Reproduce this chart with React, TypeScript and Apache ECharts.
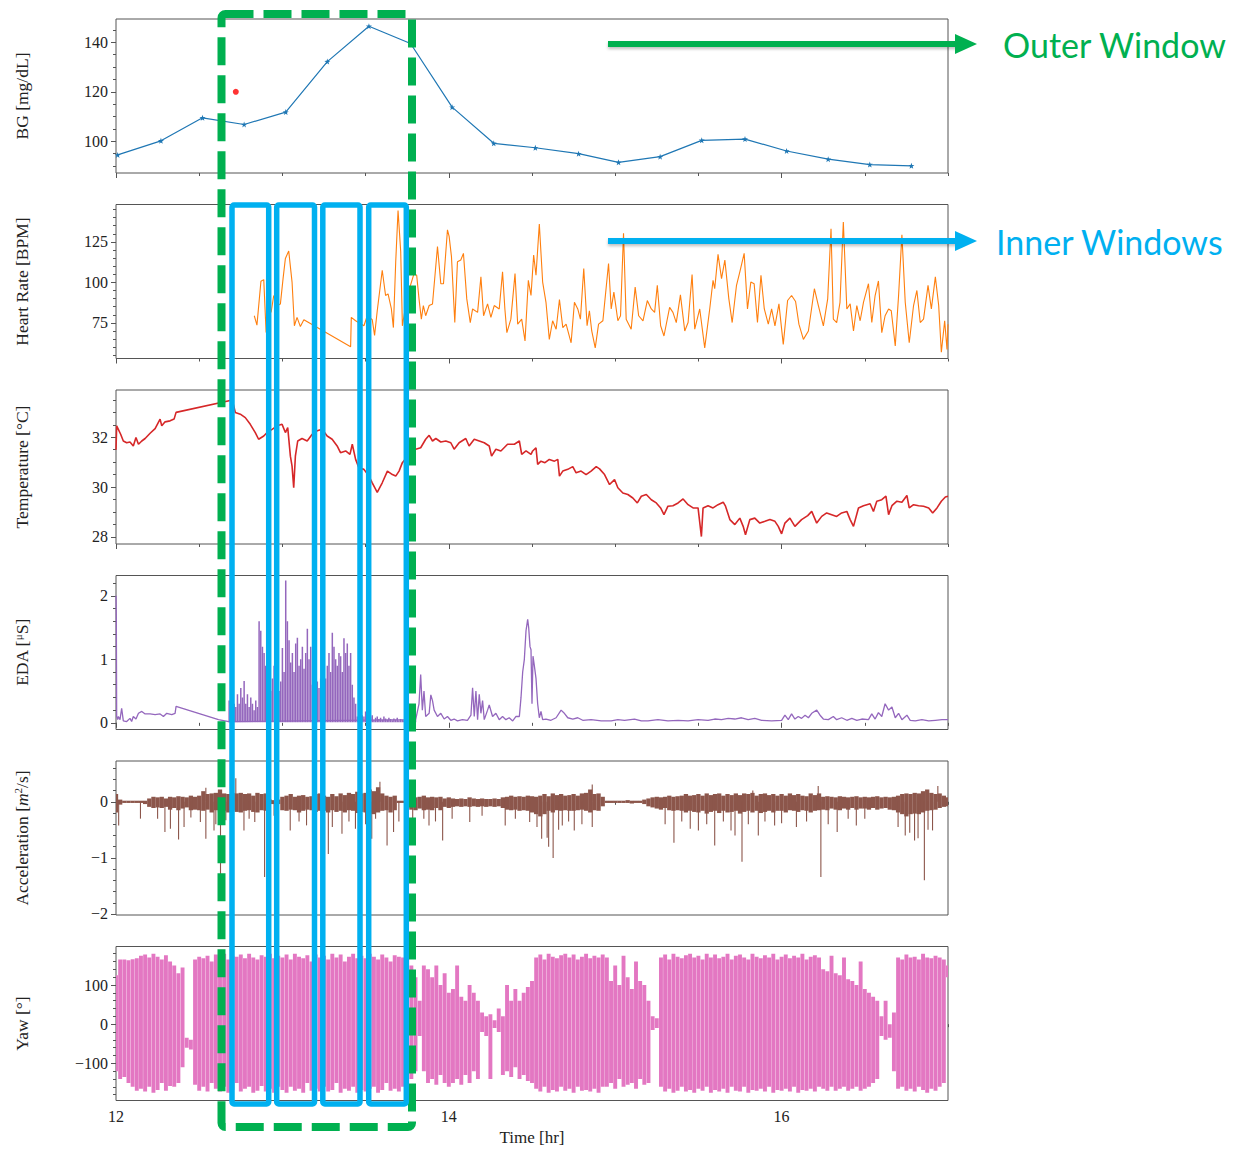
import React, { useEffect, useRef } from 'react';
import * as echarts from 'echarts';

// ---------------- DATA ----------------
const X_MIN = 12;
const X_MAX = 17;
const X_MAJOR = [12, 14, 16];

const BG_T = [12.01, 12.27, 12.52, 12.77, 13.02, 13.27, 13.52, 13.77, 14.02, 14.27, 14.52, 14.78, 15.02, 15.27, 15.52, 15.78, 16.03, 16.28, 16.53, 16.78];
const BG_V = [94.5, 100.2, 109.5, 106.8, 111.8, 132.2, 146.5, 139.5, 113.8, 99.2, 97.4, 95.0, 91.5, 93.8, 100.4, 100.9, 96.1, 92.8, 90.6, 90.1];
const BG_RED = [[12.72, 120.0]];

const HR_PTS = [
  [12.831, 79.4], [12.847, 73.6], [12.871, 100.7], [12.888, 101.7], [12.902, 69.0], [12.918, 85.7], [12.932, 81.5], [12.948, 91.9],
  [12.968, 85.7], [12.988, 86.7], [13.004, 102.3], [13.018, 114.8], [13.038, 119.4], [13.058, 100.2], [13.072, 73.2], [13.088, 78.4],
  [13.108, 72.7], [13.129, 76.9], [13.41, 60.2], [13.414, 78.4], [13.44, 76.3], [13.49, 73.2], [13.51, 79.4], [13.54, 76.9],
  [13.554, 67.3], [13.57, 82.5], [13.6, 107.5], [13.62, 91.9], [13.635, 92.9], [13.655, 83.6], [13.667, 72.1], [13.681, 112.7],
  [13.695, 144.4], [13.711, 119.0], [13.721, 73.2], [13.751, 91.9], [13.791, 105.4], [13.807, 104.4], [13.821, 89.8], [13.835, 77.3],
  [13.847, 85.7], [13.861, 79.4], [13.882, 85.7], [13.902, 86.7], [13.932, 122.1], [13.952, 99.2], [13.968, 99.2], [13.992, 132.5],
  [14.002, 128.4], [14.016, 115.9], [14.036, 75.2], [14.052, 112.7], [14.072, 113.8], [14.088, 117.9], [14.108, 89.8], [14.129, 75.2],
  [14.143, 83.6], [14.173, 81.5], [14.193, 103.4], [14.209, 79.4], [14.233, 86.7], [14.253, 78.4], [14.273, 85.7], [14.303, 83.6],
  [14.323, 106.5], [14.337, 83.6], [14.349, 69.0], [14.373, 77.3], [14.398, 105.4], [14.414, 74.2], [14.438, 77.3], [14.458, 63.8],
  [14.478, 101.3], [14.494, 91.9], [14.51, 116.9], [14.524, 104.4], [14.544, 136.1], [14.564, 100.2], [14.584, 87.7], [14.604, 64.8],
  [14.624, 76.3], [14.645, 71.1], [14.665, 89.4], [14.685, 72.1], [14.705, 74.2], [14.735, 62.7], [14.755, 87.7], [14.775, 83.6],
  [14.791, 77.3], [14.811, 108.6], [14.831, 73.2], [14.845, 82.5], [14.859, 70.0], [14.88, 59.6], [14.9, 74.2], [14.926, 76.3],
  [14.96, 111.7], [14.976, 83.6], [14.992, 94.0], [15.016, 76.3], [15.032, 79.4], [15.05, 130.4], [15.066, 77.3], [15.096, 71.1],
  [15.12, 97.1], [15.141, 79.4], [15.167, 76.3], [15.193, 88.8], [15.217, 83.6], [15.237, 81.5], [15.253, 98.2], [15.273, 73.2],
  [15.293, 66.9], [15.327, 84.6], [15.347, 81.5], [15.367, 75.2], [15.392, 92.3], [15.418, 70.0], [15.438, 75.2], [15.462, 104.8],
  [15.478, 71.1], [15.508, 83.6], [15.538, 59.6], [15.568, 83.6], [15.588, 101.3], [15.598, 96.1], [15.618, 117.3], [15.639, 102.3],
  [15.659, 113.8], [15.683, 89.8], [15.703, 75.2], [15.729, 98.2], [15.749, 106.5], [15.775, 117.9], [15.795, 83.6], [15.815, 100.2],
  [15.835, 99.2], [15.855, 75.2], [15.876, 104.4], [15.896, 83.6], [15.92, 74.2], [15.94, 83.6], [15.96, 73.2], [15.984, 86.7],
  [16.01, 61.7], [16.036, 88.8], [16.06, 91.9], [16.084, 88.2], [16.104, 74.2], [16.131, 64.8], [16.161, 70.0], [16.197, 96.1],
  [16.221, 85.7], [16.251, 73.2], [16.277, 89.8], [16.297, 133.1], [16.311, 77.3], [16.331, 75.2], [16.351, 87.7], [16.371, 137.3],
  [16.392, 83.6], [16.412, 86.7], [16.432, 70.0], [16.452, 85.7], [16.472, 76.3], [16.492, 87.7], [16.522, 99.2], [16.542, 75.2],
  [16.562, 91.9], [16.582, 100.9], [16.602, 69.0], [16.622, 79.4], [16.643, 83.6], [16.659, 82.5], [16.683, 60.7], [16.703, 91.9],
  [16.723, 129.4], [16.743, 87.7], [16.767, 62.7], [16.793, 85.7], [16.813, 95.0], [16.833, 75.2], [16.853, 77.3], [16.88, 98.2],
  [16.9, 83.6], [16.924, 103.4], [16.944, 85.7], [16.96, 56.9], [16.98, 76.3], [16.994, 58.6], [17.0, 74.2],
];

const TEMP_PTS = [
  [12.0, 31.5], [12.004, 32.46], [12.014, 32.32], [12.028, 32.12], [12.044, 31.85], [12.064, 31.78], [12.084, 31.81], [12.104, 31.65],
  [12.12, 31.99], [12.135, 31.72], [12.155, 31.85], [12.175, 31.95], [12.205, 32.16], [12.235, 32.35], [12.265, 32.73], [12.275, 32.46],
  [12.295, 32.62], [12.325, 32.66], [12.349, 32.73], [12.361, 33.0], [12.7, 33.5], [12.705, 33.33], [12.717, 33.0], [12.747, 32.93],
  [12.777, 32.79], [12.807, 32.52], [12.837, 32.19], [12.857, 31.92], [12.888, 32.05], [12.908, 32.19], [12.938, 32.32], [12.968, 32.46],
  [12.998, 32.52], [13.018, 32.19], [13.032, 32.39], [13.048, 31.24], [13.058, 30.84], [13.068, 29.97], [13.078, 31.24], [13.092, 31.85],
  [13.118, 31.95], [13.149, 31.85], [13.179, 32.12], [13.209, 32.26], [13.239, 32.32], [13.269, 32.05], [13.299, 31.92], [13.329, 31.65],
  [13.349, 31.38], [13.38, 31.45], [13.406, 31.31], [13.42, 31.72], [13.44, 31.11], [13.46, 30.77], [13.49, 30.71], [13.52, 30.44],
  [13.54, 30.17], [13.57, 29.79], [13.6, 30.17], [13.631, 30.64], [13.661, 30.5], [13.681, 30.44], [13.701, 30.64], [13.721, 30.98],
  [13.761, 31.31], [13.801, 31.52], [13.831, 31.58], [13.861, 31.92], [13.882, 32.08], [13.902, 31.85], [13.922, 31.95], [13.952, 31.81],
  [13.982, 31.85], [14.012, 31.78], [14.032, 31.52], [14.062, 31.78], [14.102, 31.95], [14.122, 31.65], [14.153, 31.92], [14.183, 31.85],
  [14.213, 31.78], [14.243, 31.65], [14.257, 31.24], [14.283, 31.52], [14.313, 31.45], [14.353, 31.72], [14.394, 31.72], [14.424, 31.85],
  [14.438, 31.31], [14.464, 31.45], [14.494, 31.31], [14.504, 31.45], [14.524, 31.58], [14.534, 30.91], [14.554, 31.04], [14.578, 30.98],
  [14.604, 31.11], [14.635, 31.04], [14.655, 31.11], [14.665, 30.44], [14.685, 30.64], [14.715, 30.71], [14.745, 30.82], [14.765, 30.57],
  [14.795, 30.64], [14.825, 30.5], [14.855, 30.64], [14.886, 30.82], [14.906, 30.73], [14.936, 30.5], [14.966, 30.1], [14.996, 30.3],
  [15.016, 29.97], [15.046, 29.76], [15.076, 29.7], [15.106, 29.56], [15.133, 29.36], [15.157, 29.63], [15.187, 29.7], [15.217, 29.49],
  [15.247, 29.36], [15.273, 29.16], [15.293, 28.89], [15.317, 29.23], [15.347, 29.25], [15.378, 29.36], [15.408, 29.52], [15.438, 29.29],
  [15.468, 29.16], [15.498, 29.16], [15.518, 28.01], [15.528, 29.16], [15.558, 29.25], [15.588, 29.16], [15.618, 29.29], [15.649, 29.39],
  [15.663, 29.23], [15.689, 28.69], [15.719, 28.49], [15.749, 28.75], [15.769, 28.42], [15.783, 28.08], [15.809, 28.69], [15.839, 28.75],
  [15.869, 28.55], [15.9, 28.62], [15.93, 28.69], [15.96, 28.62], [15.98, 28.42], [16.0, 28.12], [16.02, 28.55], [16.05, 28.75],
  [16.08, 28.42], [16.12, 28.69], [16.157, 28.85], [16.181, 29.02], [16.211, 28.55], [16.241, 28.82], [16.271, 28.96], [16.301, 28.89],
  [16.331, 28.82], [16.361, 28.96], [16.392, 29.02], [16.412, 28.69], [16.432, 28.42], [16.462, 29.16], [16.492, 29.25], [16.532, 29.33],
  [16.552, 29.02], [16.572, 29.43], [16.602, 29.49], [16.627, 29.63], [16.643, 28.89], [16.663, 29.25], [16.693, 29.43], [16.723, 29.39],
  [16.753, 29.66], [16.767, 29.16], [16.793, 29.29], [16.823, 29.25], [16.853, 29.23], [16.884, 29.16], [16.908, 28.96], [16.934, 29.16],
  [16.96, 29.43], [16.984, 29.6], [17.0, 29.63],
];

const EDA_PTS = [
  [12.0, 2.0], [12.002, 1.65], [12.004, 0.1], [12.01, 0.05], [12.014, 0.1], [12.024, 0.05], [12.034, 0.23], [12.044, 0.03],
  [12.064, 0.02], [12.084, 0.07], [12.094, 0.02], [12.104, 0.1], [12.12, 0.06], [12.135, 0.15], [12.155, 0.18], [12.175, 0.14],
  [12.205, 0.14], [12.235, 0.13], [12.265, 0.14], [12.285, 0.1], [12.305, 0.15], [12.335, 0.13], [12.355, 0.15], [12.361, 0.26],
  [12.616, 0.05], [12.677, 0.02], [13.801, 0.05], [13.821, 0.3], [13.831, 0.76], [13.841, 0.2], [13.851, 0.5], [13.861, 0.1],
  [13.882, 0.15], [13.892, 0.44], [13.902, 0.35], [13.912, 0.2], [13.932, 0.1], [13.952, 0.15], [13.972, 0.06], [13.992, 0.1],
  [14.012, 0.04], [14.032, 0.06], [14.052, 0.03], [14.082, 0.05], [14.112, 0.04], [14.133, 0.12], [14.143, 0.55], [14.153, 0.1],
  [14.163, 0.5], [14.173, 0.05], [14.183, 0.45], [14.193, 0.15], [14.203, 0.35], [14.213, 0.05], [14.233, 0.2], [14.243, 0.28],
  [14.263, 0.1], [14.283, 0.15], [14.303, 0.05], [14.323, 0.1], [14.343, 0.05], [14.363, 0.08], [14.384, 0.03], [14.404, 0.1],
  [14.424, 0.1], [14.434, 0.4], [14.444, 0.8], [14.454, 1.0], [14.464, 1.45], [14.474, 1.63], [14.48, 1.5], [14.488, 1.2],
  [14.494, 1.15], [14.5, 0.3], [14.506, 1.05], [14.514, 0.9], [14.524, 0.7], [14.534, 0.3], [14.544, 0.08], [14.554, 0.18],
  [14.564, 0.05], [14.584, 0.06], [14.614, 0.04], [14.645, 0.08], [14.675, 0.2], [14.691, 0.16], [14.715, 0.08], [14.745, 0.06],
  [14.775, 0.08], [14.805, 0.04], [14.855, 0.05], [14.916, 0.03], [14.976, 0.03], [15.016, 0.05], [15.056, 0.04], [15.116, 0.06],
  [15.157, 0.03], [15.197, 0.03], [15.257, 0.05], [15.317, 0.03], [15.378, 0.04], [15.438, 0.03], [15.498, 0.05], [15.558, 0.04],
  [15.598, 0.06], [15.639, 0.05], [15.679, 0.07], [15.719, 0.06], [15.759, 0.08], [15.799, 0.05], [15.839, 0.07], [15.88, 0.04],
  [15.94, 0.03], [16.0, 0.04], [16.02, 0.12], [16.04, 0.05], [16.06, 0.14], [16.08, 0.06], [16.1, 0.1], [16.12, 0.07],
  [16.141, 0.12], [16.161, 0.08], [16.181, 0.15], [16.211, 0.2], [16.231, 0.12], [16.251, 0.06], [16.281, 0.05], [16.311, 0.1],
  [16.331, 0.05], [16.361, 0.08], [16.392, 0.04], [16.422, 0.07], [16.452, 0.04], [16.482, 0.06], [16.522, 0.05], [16.542, 0.14],
  [16.562, 0.06], [16.582, 0.16], [16.602, 0.1], [16.622, 0.3], [16.643, 0.2], [16.663, 0.25], [16.683, 0.08], [16.703, 0.15],
  [16.723, 0.05], [16.753, 0.12], [16.773, 0.04], [16.803, 0.03], [16.843, 0.05], [16.884, 0.03], [16.924, 0.04], [16.964, 0.05],
  [17.0, 0.05],
];

// dense EDA stretch: peak values sampled every 0.01 hr from 12.68
const EDA_DENSE_T0 = 12.68;
const EDA_DENSE_DT = 0.01;
const EDA_DENSE_HI = [
  0.35, 0.2, 0.4, 0.3,
  0.25, 0.45, 0.3, 0.55, 0.4, 0.66, 0.3, 0.45, 0.25, 0.4, 0.3, 0.2, 0.35, 0.25,
  1.6, 1.45, 1.2, 1.1, 0.9,
  0.6, 0.75, 0.5, 0.7, 0.9, 0.55, 0.7, 0.5, 0.65,
  1.18, 0.8, 2.24, 1.6, 1.3,
  0.95, 1.1, 0.8, 1.25, 1.34, 0.9, 1.0, 1.2, 0.85, 1.1, 1.48, 1.0, 1.2,
  0.6, 0.7, 0.5, 0.65, 0.55, 0.7, 0.6, 0.5,
  0.7, 0.9, 1.1, 0.8, 1.42, 1.2, 1.0, 0.9, 1.1, 1.05, 0.8, 1.33, 1.1, 1.25, 0.9, 1.1, 0.6, 0.4, 0.3,
  0.1, 0.15, 0.08, 0.12, 0.1, 0.18, 0.08, 0.06, 0.1, 0.12, 0.05, 0.08, 0.1, 0.06, 0.08, 0.05, 0.1, 0.07, 0.05, 0.08,
  0.06, 0.04, 0.07, 0.05, 0.08, 0.04, 0.06, 0.05, 0.04, 0.06, 0.05, 0.04, 0.05, 0.04, 0.06, 0.05,
];

// acceleration band (upper / lower edge) every 0.025 hr from 12.0
const ACC_T0 = 12;
const ACC_DT = 0.025;
const ACC_HI = [
  0.14, 0.04, 0.02, 0.02, 0.02, 0.02, 0.02, 0.02, 0.06, 0.09,
  0.08, 0.09, 0.06, 0.09, 0.08, 0.1, 0.09, 0.08, 0.11, 0.09,
  0.11, 0.19, 0.14, 0.15, 0.16, 0.22, 0.15, 0.14, 0.16, 0.15,
  0.16, 0.14, 0.15, 0.11, 0.16, 0.14, 0.15, 0.04, 0.03, 0.04,
  0.09, 0.11, 0.14, 0.09, 0.11, 0.12, 0.09, 0.1, 0.14, 0.15,
  0.11, 0.09, 0.14, 0.1, 0.15, 0.12, 0.16, 0.14, 0.18, 0.15,
  0.16, 0.22, 0.19, 0.26, 0.15, 0.11, 0.09, 0.11, 0.02, 0.02,
  0.02, 0.09, 0.08, 0.09, 0.11, 0.08, 0.09, 0.08, 0.09, 0.06,
  0.08, 0.06, 0.05, 0.06, 0.05, 0.08, 0.06, 0.05, 0.06, 0.05,
  0.05, 0.06, 0.05, 0.08, 0.09, 0.11, 0.09, 0.1, 0.09, 0.11,
  0.1, 0.09, 0.11, 0.14, 0.1, 0.15, 0.12, 0.14, 0.11, 0.12,
  0.14, 0.11, 0.15, 0.16, 0.22, 0.14, 0.15, 0.09, 0.02, 0.02,
  0.02, 0.02, 0.02, 0.03, 0.02, 0.02, 0.02, 0.04, 0.06, 0.08,
  0.09, 0.08, 0.09, 0.11, 0.09, 0.1, 0.11, 0.14, 0.11, 0.12,
  0.14, 0.11, 0.15, 0.12, 0.14, 0.15, 0.11, 0.14, 0.12, 0.15,
  0.12, 0.15, 0.14, 0.16, 0.11, 0.14, 0.15, 0.12, 0.14, 0.11,
  0.14, 0.11, 0.15, 0.12, 0.14, 0.11, 0.1, 0.15, 0.12, 0.15,
  0.09, 0.1, 0.09, 0.08, 0.1, 0.09, 0.08, 0.09, 0.1, 0.08,
  0.09, 0.08, 0.09, 0.1, 0.08, 0.09, 0.08, 0.09, 0.11, 0.14,
  0.15, 0.14, 0.16, 0.15, 0.19, 0.22, 0.16, 0.14, 0.15, 0.11,
  0.08,
];
const ACC_LO = [
  -0.19, -0.05, -0.02, -0.02, -0.02, -0.02, -0.02, -0.04, -0.09, -0.11,
  -0.1, -0.11, -0.09, -0.14, -0.11, -0.15, -0.12, -0.1, -0.15, -0.14,
  -0.15, -0.16, -0.14, -0.19, -0.15, -0.19, -0.16, -0.19, -0.15, -0.18,
  -0.19, -0.16, -0.15, -0.18, -0.19, -0.15, -0.16, -0.04, -0.04, -0.04,
  -0.15, -0.16, -0.14, -0.15, -0.19, -0.16, -0.14, -0.15, -0.18, -0.16,
  -0.16, -0.19, -0.15, -0.18, -0.16, -0.19, -0.15, -0.16, -0.2, -0.18,
  -0.19, -0.21, -0.22, -0.19, -0.16, -0.15, -0.19, -0.15, -0.02, -0.02,
  -0.02, -0.14, -0.15, -0.12, -0.15, -0.14, -0.15, -0.11, -0.15, -0.09,
  -0.11, -0.09, -0.08, -0.09, -0.08, -0.09, -0.08, -0.09, -0.08, -0.09,
  -0.08, -0.09, -0.08, -0.11, -0.14, -0.15, -0.14, -0.16, -0.15, -0.16,
  -0.19, -0.22, -0.26, -0.22, -0.16, -0.19, -0.15, -0.16, -0.15, -0.16,
  -0.16, -0.15, -0.14, -0.16, -0.19, -0.15, -0.16, -0.08, -0.02, -0.02,
  -0.02, -0.02, -0.02, -0.02, -0.03, -0.02, -0.02, -0.04, -0.08, -0.1,
  -0.12, -0.14, -0.11, -0.15, -0.16, -0.15, -0.16, -0.19, -0.16, -0.18,
  -0.19, -0.16, -0.21, -0.18, -0.16, -0.2, -0.16, -0.19, -0.18, -0.16,
  -0.21, -0.18, -0.16, -0.19, -0.16, -0.2, -0.18, -0.16, -0.19, -0.16,
  -0.16, -0.19, -0.15, -0.16, -0.18, -0.15, -0.16, -0.19, -0.16, -0.15,
  -0.14, -0.15, -0.12, -0.14, -0.15, -0.12, -0.14, -0.11, -0.14, -0.12,
  -0.12, -0.14, -0.11, -0.14, -0.12, -0.11, -0.14, -0.15, -0.19, -0.22,
  -0.26, -0.22, -0.21, -0.22, -0.19, -0.16, -0.15, -0.14, -0.11, -0.09,
  -0.08,
];
// isolated acceleration spikes [time, peak]
const ACC_SPIKES = [
  [12.016, -0.42], [12.147, -0.3], [12.25, -0.3], [12.294, -0.54], [12.327, -0.48], [12.376, -0.67], [12.409, -0.45], [12.45, -0.28],
  [12.507, -0.36], [12.54, -0.66], [12.54, 0.25], [12.589, -0.51], [12.6, -0.4], [12.628, -1.31], [12.66, -0.33], [12.703, -0.42],
  [12.72, 0.42], [12.769, -0.51], [12.8, -0.3], [12.834, -0.36], [12.893, -1.34], [12.95, -0.25], [13.047, -0.51], [13.1, -0.35],
  [13.145, -0.42], [13.2, -0.3], [13.243, 0.2], [13.276, -0.93], [13.3, -0.45], [13.358, -0.57], [13.4, -0.35], [13.439, -0.48],
  [13.5, -0.4], [13.537, -0.66], [13.56, -0.3], [13.586, 0.36], [13.629, -0.78], [13.668, -0.54], [13.7, -0.35], [13.783, -0.66],
  [13.85, -0.3], [13.881, -0.42], [13.92, -0.35], [13.963, -0.69], [14.02, -0.3], [14.126, -0.36], [14.2, -0.25], [14.339, -0.42],
  [14.4, -0.3], [14.486, -0.36], [14.53, -0.45], [14.558, -0.66], [14.591, -0.64], [14.6, -0.8], [14.627, -1.0], [14.66, -0.5],
  [14.682, -0.42], [14.72, -0.35], [14.754, -0.51], [14.8, -0.4], [14.862, -0.45], [14.862, 0.31], [15.3, -0.4], [15.353, -0.73],
  [15.4, -0.35], [15.451, -0.48], [15.5, -0.51], [15.55, -0.4], [15.598, -0.78], [15.65, -0.35], [15.696, -0.51], [15.72, -0.6],
  [15.762, -1.07], [15.8, -0.4], [15.827, 0.2], [15.86, -0.6], [15.9, -0.35], [15.958, -0.42], [16.0, -0.38], [16.089, -0.45],
  [16.15, -0.35], [16.22, 0.28], [16.236, -1.34], [16.28, -0.4], [16.334, -0.54], [16.4, -0.3], [16.449, -0.42], [16.5, -0.3],
  [16.7, -0.45], [16.743, -0.6], [16.77, -0.55], [16.799, -0.69], [16.82, -0.65], [16.858, -1.4], [16.88, -0.5], [16.907, -0.51],
  [16.939, 0.28],
];

// yaw envelope (upper / lower reach) every 0.025 hr from 12.0
const YAW_T0 = 12;
const YAW_DT = 0.025;
const YAW_HI = [
  125, 165, 165, 163, 166, 168, 175, 178, 170, 180,
  172, 165, 176, 160, 150, 130, 145, -35, -40, 165,
  172, 168, 175, 160, 178, 170, 180, 165, 175, 172,
  178, 168, 180, 170, 165, 176, 172, 180, 168, 175,
  170, 178, 165, 180, 172, 168, 176, 160, 178, 170,
  175, 165, 180, 170, 178, 160, 172, 180, 168, 175,
  168, 180, 172, 165, 178, 170, 160, 176, 172, 170,
  165, 150, 120, 60, 150, 140, 120, 150, 100, 130,
  80, 90, 150, 70, 60, 100, 80, 60, 30, 20,
  25, 10, 40, 20, 100, 60, 90, 60, 80, 95,
  110, 170, 178, 165, 180, 172, 168, 176, 180, 170,
  178, 165, 172, 180, 168, 175, 170, 178, 170, 110,
  150, 100, 175, 120, 90, 160, 110, 100, 60, 20,
  15, 170, 178, 165, 180, 172, 168, 176, 180, 170,
  175, 165, 180, 170, 178, 168, 172, 180, 165, 175,
  178, 170, 165, 180, 172, 168, 176, 170, 180, 165,
  172, 178, 168, 175, 170, 180, 165, 172, 176, 170,
  140, 135, 175, 130, 125, 170, 115, 110, 100, 160,
  90, 80, 70, 60, 20, 60, 0, 30, 170, 165,
  178, 170, 172, 165, 180, 170, 168, 175, 170, 165,
  150,
];
const YAW_LO = [
  -120, -140, -135, -150, -160, -170, -165, -172, -160, -175,
  -168, -150, -170, -158, -160, -150, -110, -60, -65, -155,
  -170, -160, -172, -150, -165, -172, -160, -175, -168, -150,
  -172, -165, -160, -175, -170, -158, -172, -165, -175, -160,
  -168, -175, -160, -170, -165, -175, -150, -170, -165, -172,
  -160, -172, -168, -150, -175, -165, -170, -160, -175, -168,
  -172, -165, -160, -175, -168, -150, -170, -165, -172, -160,
  -150, -140, -120, -30, -120, -150, -140, -155, -130, -150,
  -160, -150, -140, -155, -130, -150, -120, -140, -20, -30,
  -140, -10, -20, -130, -120, -135, -110, -140, -130, -145,
  -150, -165, -172, -160, -175, -168, -172, -160, -170, -165,
  -175, -160, -170, -168, -172, -165, -175, -160, -160, -150,
  -165, -140, -160, -155, -150, -165, -140, -155, -150, -15,
  -10, -160, -172, -165, -175, -170, -160, -172, -168, -175,
  -165, -170, -160, -175, -168, -172, -165, -175, -160, -170,
  -172, -160, -175, -168, -170, -165, -172, -160, -175, -168,
  -170, -165, -172, -160, -175, -168, -170, -165, -172, -160,
  -165, -170, -160, -170, -165, -160, -170, -165, -160, -170,
  -165, -160, -150, -140, -30, -40, -35, -120, -165, -160,
  -170, -165, -172, -160, -168, -175, -165, -170, -160, -150,
  120,
];

// panels: y range and tick labels
const PANEL_NAMES = ['BG [mg/dL]', 'Heart Rate [BPM]', 'Temperature [°C]', 'EDA [{sup|μ}S]', 'Acceleration [{it|m}{sup|2}/s]', 'Yaw [°]'];
const Y_RANGES = [[87.2, 149.4], [53.0, 148.1], [27.71, 33.9], [-0.105, 2.32], [-2.018, 0.728], [-194.9, 198.3]];
const Y_MAJOR = [[100, 120, 140], [75, 100, 125], [28, 30, 32], [0, 1, 2], [-2, -1, 0], [-100, 0, 100]];
const Y_MINOR_STEP = [5, 5, 0.5, 0.2, 0.2, 20];
const X_MINOR_STEP = 0.5;

// ---------------- STYLE ----------------
const LEFT = 116;
const WIDTH = 832;
const TOPS = [19, 204.5, 390, 575.5, 761, 946.5];
const HEIGHT = 154;
const FRAME = '#555';
const SERIF = '"Liberation Serif", "DejaVu Serif", serif';
const TXT = '#222';
const GREEN = '#00b050';
const BLUE = '#00b0f0';
const STAR = 'path://M0,-10L2.35,-3.24L9.51,-3.09L3.8,1.24L5.88,8.09L0,4L-5.88,8.09L-3.8,1.24L-9.51,-3.09L-2.35,-3.24Z';

function stepsBetween(lo: number, hi: number, step: number) {
  const out: number[] = [];
  const start = Math.ceil(lo / step - 1e-9);
  for (let k = start; k * step <= hi + 1e-9; k++) out.push(+(k * step).toFixed(6));
  return out;
}
const fmt = (v: number) => String(v).replace('-', '\u2212');

function vbar(color: string, width: number) {
  return (params: any, api: any) => {
    const t = api.value(0);
    const a = api.coord([t, api.value(1)]);
    const b = api.coord([t, api.value(2)]);
    return {
      type: 'line',
      shape: { x1: a[0], y1: a[1], x2: b[0], y2: b[1] },
      style: { stroke: color, lineWidth: width },
    };
  };
}

function buildOption() {
  const grid: any[] = [];
  const xAxis: any[] = [];
  const yAxis: any[] = [];
  for (let k = 0; k < 6; k++) {
    grid.push({
      left: LEFT, top: TOPS[k], width: WIDTH, height: HEIGHT,
      show: true, borderColor: FRAME, borderWidth: 1, backgroundColor: 'transparent',
      containLabel: false, outerBoundsMode: 'none',
    });
    const last = k === 5;
    xAxis.push({
      type: 'value', gridIndex: k, position: 'bottom', min: X_MIN, max: X_MAX,
      axisLine: { show: false }, splitLine: { show: false },
      axisTick: { show: true, length: 5, customValues: X_MAJOR, lineStyle: { color: FRAME, width: 1 } },
      axisLabel: { show: last, customValues: X_MAJOR, fontFamily: SERIF, fontSize: 16, color: TXT, margin: 8 },
      name: last ? 'Time [hr]' : '', nameLocation: 'middle', nameGap: 28,
      nameTextStyle: { fontFamily: SERIF, fontSize: 17, color: TXT },
    });
    xAxis.push({
      type: 'value', gridIndex: k, position: 'bottom', min: X_MIN, max: X_MAX,
      axisLine: { show: false }, splitLine: { show: false }, axisLabel: { show: false },
      axisTick: { show: true, length: 3, customValues: stepsBetween(X_MIN, X_MAX, X_MINOR_STEP), lineStyle: { color: FRAME, width: 1 } },
    });
    const [ymin, ymax] = Y_RANGES[k];
    yAxis.push({
      type: 'value', gridIndex: k, position: 'left', min: ymin, max: ymax,
      axisLine: { show: false }, splitLine: { show: false },
      axisTick: { show: true, length: 5, customValues: Y_MAJOR[k], lineStyle: { color: FRAME, width: 1 } },
      axisLabel: { customValues: Y_MAJOR[k], fontFamily: SERIF, fontSize: 16, color: TXT, margin: 8, formatter: fmt },
      name: PANEL_NAMES[k], nameLocation: 'middle', nameRotate: 90, nameGap: 84,
      nameTextStyle: {
        fontFamily: SERIF, fontSize: 17.5, color: TXT, lineHeight: 20,
        rich: {
          sup: { fontFamily: SERIF, fontSize: 11, color: TXT, verticalAlign: 'top', lineHeight: 12 },
          it: { fontFamily: SERIF, fontSize: 17.5, color: TXT, fontStyle: 'italic', lineHeight: 20 },
        },
      },
    });
    yAxis.push({
      type: 'value', gridIndex: k, position: 'left', min: ymin, max: ymax,
      axisLine: { show: false }, splitLine: { show: false }, axisLabel: { show: false },
      axisTick: { show: true, length: 3, customValues: stepsBetween(ymin, ymax, Y_MINOR_STEP[k]), lineStyle: { color: FRAME, width: 1 } },
    });
  }
  const ax = (k: number) => ({ xAxisIndex: 2 * k, yAxisIndex: 2 * k });

  const eda0 = EDA_DENSE_HI.map((h, i) => [EDA_DENSE_T0 + i * EDA_DENSE_DT, 0.01, h]);
  const accBand = ACC_HI.map((h, i) => [ACC_T0 + i * ACC_DT, ACC_LO[i], h]);
  const accSpikes = ACC_SPIKES.map(([t, v]) => [t, 0, v]);
  const yaw = YAW_HI.map((h, i) => [YAW_T0 + i * YAW_DT, YAW_LO[i], h]);

  const series: any[] = [
    {
      type: 'line', ...ax(0), data: BG_T.map((t, i) => [t, BG_V[i]]),
      symbol: STAR, symbolSize: 6, showSymbol: true,
      lineStyle: { color: '#1f77b4', width: 1.2 }, itemStyle: { color: '#1f77b4' },
    },
    { type: 'scatter', ...ax(0), data: BG_RED, symbol: 'circle', symbolSize: 6, itemStyle: { color: '#ff0000' } },
    { type: 'line', ...ax(1), data: HR_PTS, showSymbol: false, lineStyle: { color: '#ff7f0e', width: 1.1 } },
    { type: 'line', ...ax(2), data: TEMP_PTS, showSymbol: false, lineStyle: { color: '#d62728', width: 1.6 } },
    { type: 'line', ...ax(3), data: EDA_PTS, showSymbol: false, lineStyle: { color: '#9467bd', width: 1.3 } },
    { type: 'custom', ...ax(3), data: eda0, encode: { x: 0, y: [1, 2] }, renderItem: vbar('#9467bd', 1.5), clip: true },
    { type: 'custom', ...ax(4), data: accBand, encode: { x: 0, y: [1, 2] }, renderItem: vbar('#8c564b', 4.3), clip: true },
    { type: 'custom', ...ax(4), data: accSpikes, encode: { x: 0, y: [1, 2] }, renderItem: vbar('#8c564b', 1.1), clip: true },
    { type: 'custom', ...ax(5), data: yaw, encode: { x: 0, y: [1, 2] }, renderItem: vbar('#e377c2', 3.9), clip: true },
  ];

  const innerWins = [[232, 268.7], [276.7, 314.5], [322.8, 360], [368.7, 406.3]];
  const graphic: any[] = [
    {
      type: 'rect', z: 100, shape: { x: 221.5, y: 14, width: 190.5, height: 1113, r: 4 },
      style: { fill: 'none', stroke: GREEN, lineWidth: 8, lineDash: [28, 10] },
    },
    ...innerWins.map(([a, b]) => ({
      type: 'rect', z: 101, shape: { x: a, y: 205, width: b - a, height: 899, r: 2 },
      style: { fill: 'none', stroke: BLUE, lineWidth: 5.5 },
    })),
    { type: 'rect', z: 100, shape: { x: 608, y: 41, width: 350, height: 6 }, style: { fill: GREEN, shadowBlur: 3, shadowColor: 'rgba(0,0,0,0.25)', shadowOffsetY: 2 } },
    { type: 'polygon', z: 100, shape: { points: [[955, 34], [977, 44], [955, 54]] }, style: { fill: GREEN } },
    { type: 'rect', z: 100, shape: { x: 608, y: 238, width: 350, height: 6 }, style: { fill: BLUE, shadowBlur: 3, shadowColor: 'rgba(0,0,0,0.25)', shadowOffsetY: 2 } },
    { type: 'polygon', z: 100, shape: { points: [[955, 231], [977, 241], [955, 251]] }, style: { fill: BLUE } },
    { type: 'text', z: 100, x: 1003, y: 44, style: { text: 'Outer Window', fill: GREEN, font: '34px Lato', textVerticalAlign: 'middle', verticalAlign: 'middle' } },
    { type: 'text', z: 100, x: 996, y: 241, style: { text: 'Inner Windows', fill: BLUE, font: '34px Lato', textVerticalAlign: 'middle', verticalAlign: 'middle' } },
  ];

  return { animation: false, backgroundColor: '#fff', grid, xAxis, yAxis, series, graphic };
}

export default function App() {
  const ref = useRef<HTMLDivElement>(null);
  useEffect(() => {
    const chart = echarts.init(ref.current!, null, { renderer: 'svg' });
    chart.setOption(buildOption() as any);
    return () => chart.dispose();
  }, []);
  return <div ref={ref} style={{ position: 'absolute', left: 0, top: 0, width: 1243, height: 1150, background: '#fff' }} />;
}
